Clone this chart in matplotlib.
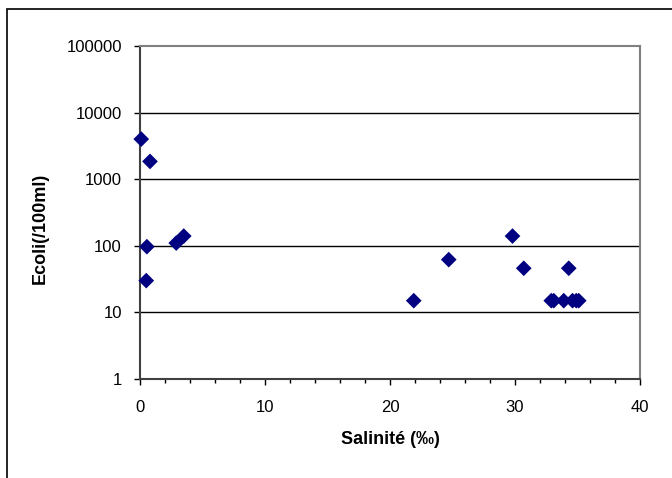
import matplotlib
matplotlib.use("Agg")
import matplotlib.pyplot as plt
from matplotlib.patches import Rectangle
from matplotlib.ticker import FixedLocator, MultipleLocator, FuncFormatter

# data
salinite = [0.1, 0.8, 0.55, 0.5, 2.9, 3.5, 21.9, 24.7, 29.8, 30.7, 34.3,
            32.9, 33.1, 33.9, 34.6, 34.9, 35.1]
ecoli = [4000, 1850, 97, 30, 110, 140, 15, 62, 140, 46, 46,
         15, 15, 15, 15, 15, 15]
yticks = [1, 10, 100, 1000, 10000, 100000]

plt.rcParams['font.family'] = ['Liberation Sans', 'DejaVu Sans']

fig = plt.figure(figsize=(6.72, 4.78), dpi=100)
# outer chart frame (cut off at right and bottom)
fig.patches.append(Rectangle((6.5 / 672, -0.05), 1.2, 1 - 9 / 478 + 0.05,
                             transform=fig.transFigure, fill=False,
                             edgecolor='black', linewidth=1.2))

ax = fig.add_axes([140 / 672, 1 - 379 / 478, 500 / 672, 333 / 478])
ax.set_yscale('log')
ax.set_ylim(1, 100000)
ax.set_xlim(0, 40)

for y in yticks[1:-1]:
    ax.axhline(y, color='black', linewidth=1.0, zorder=1)

ax.scatter(salinite, ecoli, marker='D', s=64, color='#000080',
           edgecolors='none', zorder=3, clip_on=False)

ax.yaxis.set_major_locator(FixedLocator(yticks))
ax.yaxis.set_minor_locator(FixedLocator([]))
ax.yaxis.set_major_formatter(FuncFormatter(lambda v, p: f"{int(v)}"))
ax.xaxis.set_major_locator(MultipleLocator(10))
ax.xaxis.set_minor_locator(MultipleLocator(2))

for s in ['top', 'right']:
    ax.spines[s].set_color('#808080')
    ax.spines[s].set_linewidth(1.5)
for s in ['left', 'bottom']:
    ax.spines[s].set_color('#404040')
    ax.spines[s].set_linewidth(1.5)

ax.tick_params(axis='y', which='major', direction='out', length=4,
               width=1, labelsize=12, color='black', pad=9)
ax.tick_params(axis='x', which='major', direction='out', length=4,
               width=1, labelsize=12, color='black', pad=11)
ax.tick_params(axis='x', which='minor', direction='out', length=3, width=1)

ax.set_xlabel('Salinité (‰)', fontsize=13, fontweight='bold', va='center')
ax.xaxis.set_label_coords(0.5, (379 - 440) / 333)
ax.set_ylabel('Ecoli(/100ml)', fontsize=13, fontweight='bold', va='center')
ax.yaxis.set_label_coords((40 - 140) / 500, (379 - 228) / 333)

fig.savefig('out.png', dpi=100)
